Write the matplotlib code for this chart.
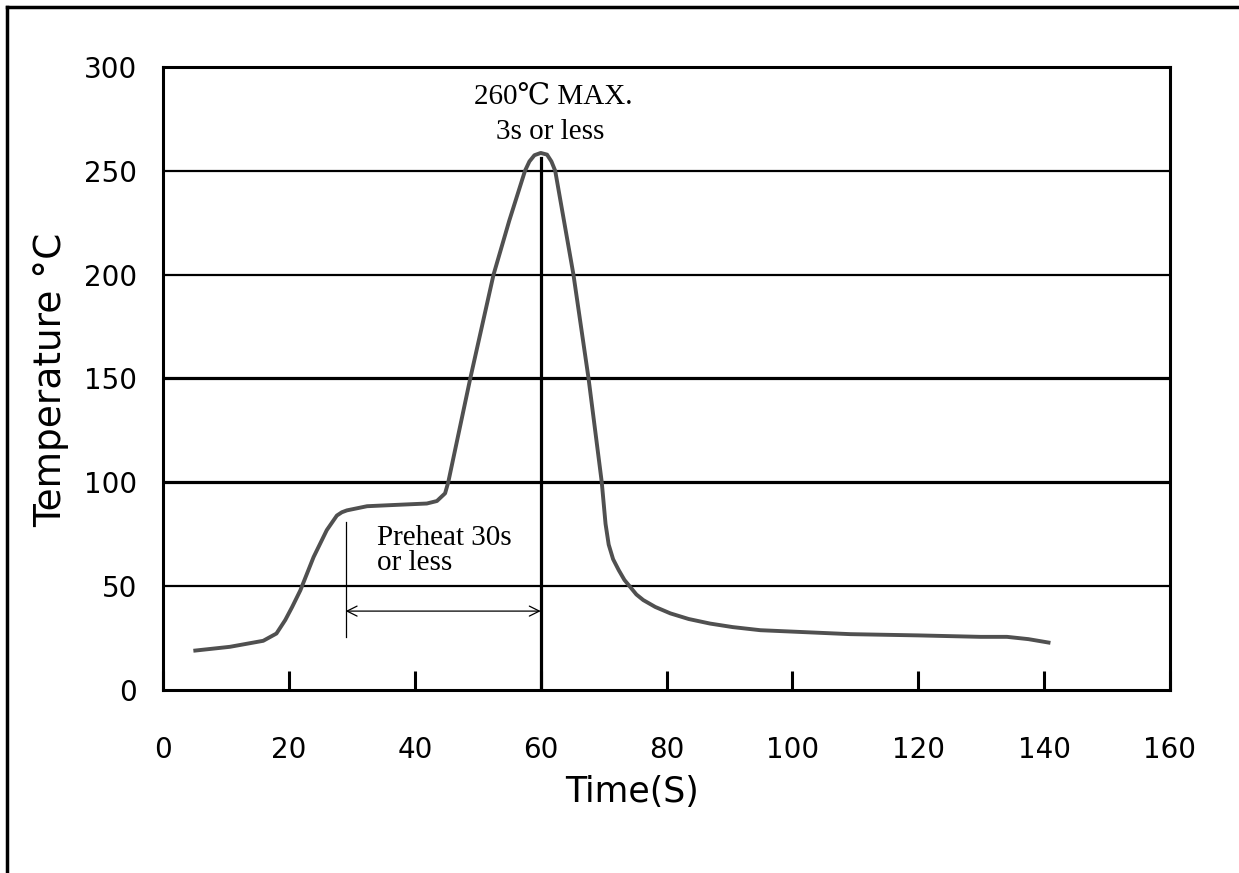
import matplotlib.pyplot as plt
from matplotlib.lines import Line2D
import numpy as np

# reflow profile
time_s = [4.8, 10.6, 15.9, 18.0, 19.4, 20.5, 21.8, 23.9, 26.0, 27.6, 28.4, 29.2, 32.4,
          36.0, 41.9, 43.5, 44.8, 45.3, 48.8, 52.5, 55.0, 57.5, 58.2, 59.0, 60.0, 61.0,
          61.7, 62.3, 65.2, 67.6, 69.7, 70.0, 70.3, 70.8, 71.5, 72.4, 73.3, 74.2, 75.2,
          76.3, 78.2, 80.6, 83.5, 86.9, 90.5, 94.9, 109.2, 120.0, 129.9, 134.1, 137.5,
          141.0]
temp_c = [18.9, 20.8, 23.7, 27.2, 33.7, 40.0, 48.0, 64.0, 77.0, 84.0, 85.6, 86.5, 88.5,
          89.0, 89.8, 91.0, 94.7, 100.0, 150.0, 200.0, 226.0, 250.0, 254.5, 257.5, 258.6,
          257.8, 254.5, 250.0, 200.0, 150.0, 100.0, 90.0, 80.0, 70.0, 63.0, 57.7, 53.0,
          49.7, 46.0, 43.3, 40.0, 36.9, 34.2, 32.0, 30.3, 28.8, 26.9, 26.3, 25.6, 25.6,
          24.5, 22.7]

x_ticks = [0, 20, 40, 60, 80, 100, 120, 140, 160]
y_ticks = [0, 50, 100, 150, 200, 250, 300]
thin_grid = [50, 200, 250]
thick_grid = [100, 150]

peak_time = 60
peak_line_top = 256
preheat_start = 29
preheat_arrow_y = 38

serif = ["Liberation Serif", "DejaVu Serif", "DejaVu Sans"]

fig = plt.figure(figsize=(12.39, 8.73), dpi=100)
ax = fig.add_axes([0.1317, 0.2096, 0.8126, 0.7137])

# grid lines
for y in thin_grid:
    ax.axhline(y, color="black", lw=1.6, zorder=1)
for y in thick_grid:
    ax.axhline(y, color="black", lw=2.3, zorder=1)

# profile curve
ax.plot(time_s, temp_c, color="#505050", lw=2.8, zorder=3,
        solid_joinstyle="round", solid_capstyle="butt")

# peak marker line
ax.plot([peak_time, peak_time], [0, peak_line_top], color="black", lw=2.3, zorder=2)

# preheat dimension
ax.plot([preheat_start, preheat_start], [25.5, 81], color="black", lw=0.9, zorder=2)
ax.annotate("", xy=(preheat_start, preheat_arrow_y), xytext=(peak_time, preheat_arrow_y),
            arrowprops=dict(arrowstyle="<->", color="black", lw=0.9,
                            shrinkA=0, shrinkB=0, mutation_scale=18))
ax.text(34, 67, "Preheat 30s\nor less", family=serif, fontsize=21,
        ha="left", va="center", linespacing=0.95)

# peak annotation
ax.text(62, 285.5, "260\u2103 MAX.", family=serif, fontsize=21, ha="center", va="center")
ax.text(61.5, 268.5, "3s or less", family=serif, fontsize=21, ha="center", va="center")

ax.set_xlim(0, 160)
ax.set_ylim(0, 300)
ax.set_xticks(x_ticks)
ax.set_yticks(y_ticks)
ax.set_xticklabels([str(t) for t in x_ticks])
ax.set_yticklabels([str(t) for t in y_ticks])
ax.tick_params(axis="x", direction="in", length=14, width=2.2, pad=33, labelsize=20)
ax.tick_params(axis="y", length=0, pad=19, labelsize=20)

for s in ax.spines.values():
    s.set_linewidth(2.2)

fig.text(632 / 1239, 1 - 792 / 873, "Time(S)", fontsize=25, ha="center", va="center")
fig.text(51 / 1239, 1 - 380 / 873, "Temperature \u00b0C", fontsize=27,
         rotation=90, ha="center", va="center")

# outer frame (left and top edges visible)
fig.add_artist(Line2D([7 / 1239, 7 / 1239], [0, 1 - 7 / 873], color="black", lw=2.5,
                      transform=fig.transFigure))
fig.add_artist(Line2D([7 / 1239, 1], [1 - 7 / 873, 1 - 7 / 873], color="black", lw=2.5,
                      transform=fig.transFigure))

fig.savefig("out.png", dpi=100, facecolor="white")
